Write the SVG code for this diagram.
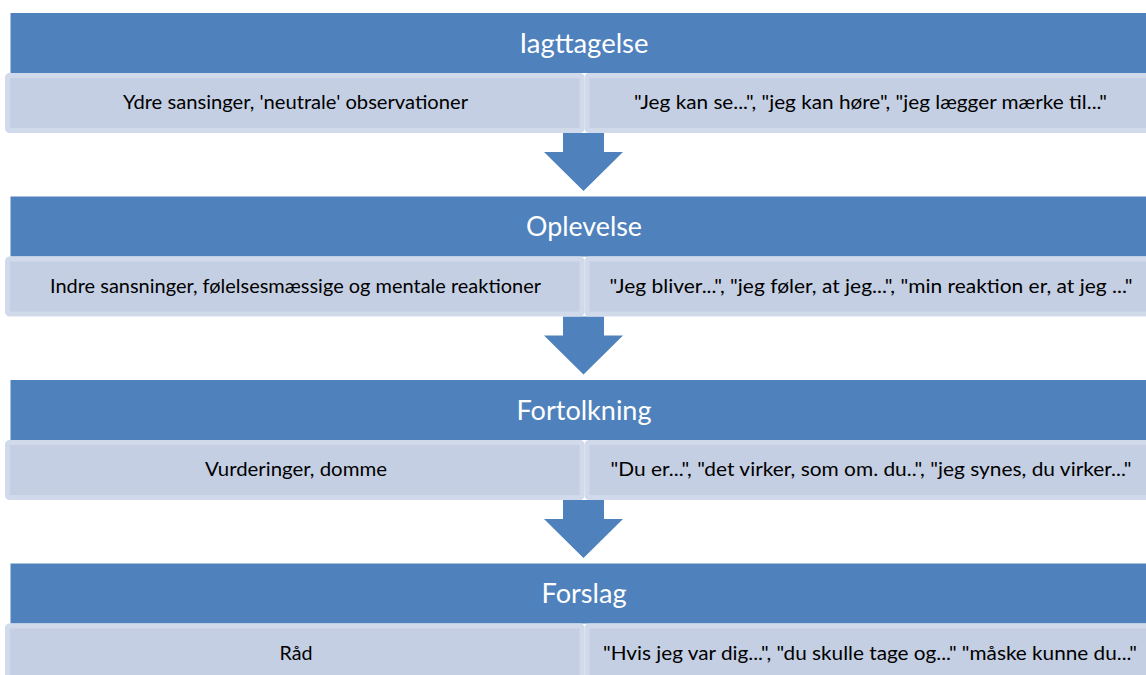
<svg xmlns="http://www.w3.org/2000/svg" width="1146" height="675" viewBox="0 0 1146 675">
  <style>
    .head { fill: #4F81BD; }
    .cell { fill: #C4CFE3; stroke: #D1DAEB; stroke-width: 5; }
    .flow { fill: #4F81BD; }
    .title { font-family: Lato, "Open Sans", "Liberation Sans", sans-serif; font-size: 26px; fill: #FFFFFF; text-anchor: middle; }
    .note { font-family: Lato, "Open Sans", "Liberation Sans", sans-serif; font-size: 19.5px; fill: #000000; text-anchor: middle; }
  </style>
  <defs>
    <!-- block arrow between stages; origin at the top of its stage header -->
    <path id="down-arrow" d="M563,120 H604 V139 H623 L583.5,178 L544,139 H563 Z"/>
  </defs>

  <rect width="1146" height="675" fill="#FFFFFF"/>

  <g id="connectors" class="flow">
    <use href="#down-arrow" transform="translate(0,13)"/>
    <use href="#down-arrow" transform="translate(0,196.5)"/>
    <use href="#down-arrow" transform="translate(0,380)"/>
  </g>

  <g id="stage-iagttagelse" transform="translate(0,13)">
    <g id="iagttagelse-title">
      <rect class="head" x="10.5" y="0" width="1150" height="60"/>
      <text class="title" x="584" y="39.5" textLength="129" lengthAdjust="spacingAndGlyphs">Iagttagelse</text>
    </g>
    <g id="iagttagelse-description">
      <rect class="cell" x="7.5" y="62.5" width="574.5" height="55" rx="2"/>
      <text class="note" x="295.5" y="96" textLength="345" lengthAdjust="spacingAndGlyphs">Ydre sansinger, 'neutrale' observationer</text>
    </g>
    <g id="iagttagelse-examples">
      <rect class="cell" x="587" y="62.5" width="600" height="55" rx="2"/>
      <text class="note" x="870.5" y="96" textLength="473" lengthAdjust="spacingAndGlyphs">"Jeg kan se...", "jeg kan høre", "jeg lægger mærke til..."</text>
    </g>
  </g>

  <g id="stage-oplevelse" transform="translate(0,196.5)">
    <g id="oplevelse-title">
      <rect class="head" x="10.5" y="0" width="1150" height="60"/>
      <text class="title" x="584" y="39.5" textLength="116" lengthAdjust="spacingAndGlyphs">Oplevelse</text>
    </g>
    <g id="oplevelse-description">
      <rect class="cell" x="7.5" y="62.5" width="574.5" height="55" rx="2"/>
      <text class="note" x="295.5" y="96" textLength="491" lengthAdjust="spacingAndGlyphs">Indre sansninger, følelsesmæssige og mentale reaktioner</text>
    </g>
    <g id="oplevelse-examples">
      <rect class="cell" x="587" y="62.5" width="600" height="55" rx="2"/>
      <text class="note" x="871" y="96" textLength="523" lengthAdjust="spacingAndGlyphs">"Jeg bliver...", "jeg føler, at jeg...", "min reaktion er, at jeg ..."</text>
    </g>
  </g>

  <g id="stage-fortolkning" transform="translate(0,380)">
    <g id="fortolkning-title">
      <rect class="head" x="10.5" y="0" width="1150" height="60"/>
      <text class="title" x="584" y="39.5" textLength="135" lengthAdjust="spacingAndGlyphs">Fortolkning</text>
    </g>
    <g id="fortolkning-description">
      <rect class="cell" x="7.5" y="62.5" width="574.5" height="55" rx="2"/>
      <text class="note" x="296" y="96" textLength="182" lengthAdjust="spacingAndGlyphs">Vurderinger, domme</text>
    </g>
    <g id="fortolkning-examples">
      <rect class="cell" x="587" y="62.5" width="600" height="55" rx="2"/>
      <text class="note" x="871" y="96" textLength="521" lengthAdjust="spacingAndGlyphs">"Du er...", "det virker, som om. du..", "jeg synes, du virker..."</text>
    </g>
  </g>

  <g id="stage-forslag" transform="translate(0,563.5)">
    <g id="forslag-title">
      <rect class="head" x="10.5" y="0" width="1150" height="60"/>
      <text class="title" x="584" y="39.5" textLength="85" lengthAdjust="spacingAndGlyphs">Forslag</text>
    </g>
    <g id="forslag-description">
      <rect class="cell" x="7.5" y="62.5" width="574.5" height="55" rx="2"/>
      <text class="note" x="296" y="96" textLength="33" lengthAdjust="spacingAndGlyphs">Råd</text>
    </g>
    <g id="forslag-examples">
      <rect class="cell" x="587" y="62.5" width="600" height="55" rx="2"/>
      <text class="note" x="870" y="96" textLength="534" lengthAdjust="spacingAndGlyphs">"Hvis jeg var dig...", "du skulle tage og..." "måske kunne du..."</text>
    </g>
  </g>
</svg>
